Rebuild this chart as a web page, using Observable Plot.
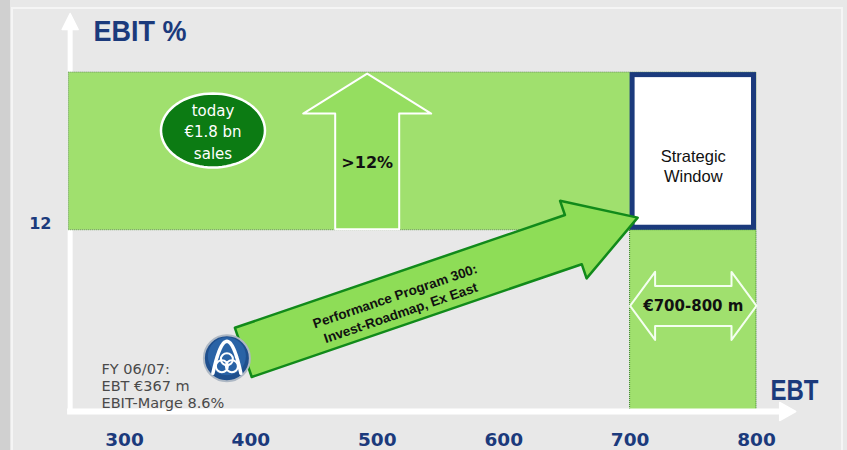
<!DOCTYPE html>
<html>
<head>
<meta charset="utf-8">
<script src="https://cdn.jsdelivr.net/npm/d3@7"></script>
<script src="https://cdn.jsdelivr.net/npm/@observablehq/plot@0.6"></script>
<style>
  html, body { margin: 0; padding: 0; background: #e8e8e8; }
  #wrap { position: relative; width: 847px; height: 450px; overflow: hidden; }
  .deco { position: absolute; }
  #chart { position: absolute; left: 0; top: 0; }
  #chart svg { background: transparent; overflow: visible; }
</style>
</head>
<body>
<div id="wrap">
  <div class="deco" style="left:0;top:0;width:10px;height:450px;background:#d0d0d0"></div>
  <div class="deco" style="left:11px;top:7px;width:2px;height:443px;background:#f5f5f5"></div>
  <div class="deco" style="left:11px;top:7px;width:832px;height:2px;background:#f5f5f5"></div>
  <div class="deco" style="left:841px;top:7px;width:2px;height:443px;background:#f5f5f5"></div>
  <div id="chart"></div>
</div>
<script>
// ---------- data (EBT in € m on x, EBIT % on y) ----------
const xTicks = [300, 400, 500, 600, 700, 800];
const yTicks = [12];
const xDomain = [300, 800];
const yDomain = [7.4, 17.5];
const axisOrigin = [257, 7.4];          // where the two axis arrows start
const xAxisEnd = 831;                   // EBT arrow tip
const yAxisEnd = 17.5;                  // EBIT % arrow tip
const bandEbt = [256, 800];             // target margin band (>12 %)
const bandMargin = [12, 16];
const windowEbt = [700, 800];           // strategic window
const windowMargin = [12, 16];
const targetArrowEbt = 492;             // ">12%" arrow
const targetArrowMargin = [12, 16];
const rangeArrowMargin = 10.08;         // "€700-800 m" double arrow
const todayPoint = [381, 8.75];         // FY 06/07 marker (logo)
const pathFrom = [394, 8.9];            // Performance Program arrow
const pathTo = [706, 12.32];
const salesBubble = [370, 14.53];
const salesLines = ["today", "€1.8 bn", "sales"];
const fyLines = ["FY 06/07:", "EBT €367 m", "EBIT-Marge 8.6%"];
const fyLabelAt = [281.8, 8.05];
const programLines = ["Performance Program 300:", "Invest-Roadmap, Ex East"];
const programLabelAt = [516, 10.14];
const windowLabel = ["Strategic", "Window"];
const windowLabelMargin = 13.64;
const targetLabel = ">12%";
const targetLabelMargin = 13.72;
const rangeLabel = "€700-800 m";

// ---------- layout ----------
const W = 847, H = 450;
const xRange = [124, 756];
const yRange = [411, 13];
const X = d3.scaleLinear().domain(xDomain).range(xRange);
const Y = d3.scaleLinear().domain(yDomain).range(yRange);
const toData = pts => pts.map(([px, py]) => ({x: X.invert(px), y: Y.invert(py)}));

const NAVY = "#1b3a7c";
const GREEN_BAND = "#a0e06e";
const GREEN_UP = "#95de60";
const GREEN_ARROW = "#8edd57";
const GREEN_DARK = "#118a1a";

// y axis arrow head
const ox = X(axisOrigin[0]), oy = Y(axisOrigin[1]);
const yTip = Y(yAxisEnd);
const yHead = toData([[ox - 8, yTip + 16], [ox, yTip], [ox + 8, yTip + 16]]);
// x axis arrow head
const xTip = X(xAxisEnd);
const xHead = toData([[xTip - 16, oy - 9], [xTip, oy], [xTip - 16, oy + 9]]);

// ">12%" up arrow
const ucx = X(targetArrowEbt), uTop = Y(targetArrowMargin[1]) + 1, uBot = Y(targetArrowMargin[0]) - 1;
const upArrow = toData([
  [ucx - 32, uBot], [ucx - 32, uTop + 40], [ucx - 64, uTop + 40], [ucx, uTop],
  [ucx + 64, uTop + 40], [ucx + 32, uTop + 40], [ucx + 32, uBot]
]);

// Performance program arrow
const p0 = [X(pathFrom[0]), Y(pathFrom[1])], p1 = [X(pathTo[0]), Y(pathTo[1])];
const len = Math.hypot(p1[0] - p0[0], p1[1] - p0[1]);
const u = [(p1[0] - p0[0]) / len, (p1[1] - p0[1]) / len];
const n = [-u[1], u[0]];
const hb = [p1[0] - u[0] * 68, p1[1] - u[1] * 68];
const at = (p, k) => [p[0] + n[0] * k, p[1] + n[1] * k];
const progArrow = toData([at(p0, -26), at(hb, -26), at(hb, -41), p1, at(hb, 41), at(hb, 26), at(p0, 26)]);
const progAngle = Math.atan2(u[1], u[0]) * 180 / Math.PI;

// double arrow
const dl = X(windowEbt[0]), dr = X(windowEbt[1]), dy0 = Y(rangeArrowMargin);
const dblArrow = toData([
  [dl, dy0], [dl + 25, dy0 - 34], [dl + 25, dy0 - 20], [dr - 25, dy0 - 20], [dr - 25, dy0 - 34],
  [dr, dy0], [dr - 25, dy0 + 34], [dr - 25, dy0 + 20], [dl + 25, dy0 + 20], [dl + 25, dy0 + 34]
]);

// sales ellipse
const ec = [X(salesBubble[0]), Y(salesBubble[1])];
const ellipse = toData(d3.range(72).map(i => {
  const t = i / 72 * 2 * Math.PI;
  return [ec[0] + 52 * Math.cos(t), ec[1] + 37 * Math.sin(t)];
}));

// logo arch and rings
const lc = [X(todayPoint[0]), Y(todayPoint[1])];
const arch = toData(d3.range(-14, 14.01, 1).map(dx => [lc[0] + dx, lc[1] - 17 + 32 * (dx / 14) ** 2]));
const rings = toData([[lc[0], lc[1] + 1], [lc[0] - 5, lc[1] + 8], [lc[0] + 5, lc[1] + 8]]);

const plot = Plot.plot({
  width: W, height: H,
  marginLeft: 70, marginRight: 52, marginTop: 13, marginBottom: 39,
  x: {domain: xDomain, range: xRange, axis: null},
  y: {domain: yDomain, range: yRange, axis: null},
  style: {fontFamily: "DejaVu Sans", background: "transparent", overflow: "visible"},
  marks: [
    // y axis arrow (behind band)
    Plot.ruleX([axisOrigin[0]], {y1: axisOrigin[1], y2: Y.invert(yTip + 14), stroke: "white", strokeWidth: 5}),
    Plot.line(yHead, {x: "x", y: "y", fill: "white", stroke: "white", curve: "linear-closed"}),
    // target band
    Plot.rect([0], {x1: bandEbt[0], x2: bandEbt[1], y1: bandMargin[0], y2: bandMargin[1], fill: GREEN_BAND,
      stroke: "#5e8f4c", strokeWidth: 1, strokeDasharray: "1,1"}),
    // column under the window
    Plot.rect([0], {x1: windowEbt[0], x2: windowEbt[1], y1: axisOrigin[1], y2: windowMargin[0], fill: GREEN_BAND,
      stroke: "#2f7a22", strokeWidth: 1, strokeDasharray: "1,1"}),
    // >12% arrow
    Plot.line(upArrow, {x: "x", y: "y", fill: GREEN_UP, stroke: "white", strokeWidth: 2, curve: "linear-closed"}),
    // strategic window
    Plot.rect([0], {x1: windowEbt[0], x2: windowEbt[1], y1: windowMargin[0], y2: windowMargin[1],
      fill: "white", stroke: NAVY, strokeWidth: 5, inset: 2.5}),
    // sales bubble
    Plot.line(ellipse, {x: "x", y: "y", fill: "#0c7b13", stroke: "white", strokeWidth: 2.5, curve: "linear-closed"}),
    // double arrow
    Plot.line(dblArrow, {x: "x", y: "y", fill: "none", stroke: "#f4fff0", strokeWidth: 2, curve: "linear-closed"}),
    // x axis arrow
    Plot.ruleY([axisOrigin[1]], {x1: axisOrigin[0] - 2, x2: X.invert(xTip - 14), stroke: "white", strokeWidth: 6}),
    Plot.line(xHead, {x: "x", y: "y", fill: "white", stroke: "white", curve: "linear-closed"}),
    // performance program arrow
    Plot.line(progArrow, {x: "x", y: "y", fill: GREEN_ARROW, stroke: GREEN_DARK, strokeWidth: 2.5, curve: "linear-closed"}),
    // logo
    Plot.dot([todayPoint], {x: d => d[0], y: d => d[1], r: 23, fill: "#1f4f8d", stroke: "#aeb8c4", strokeWidth: 2}),
    Plot.dot([todayPoint], {x: d => d[0], y: d => d[1], r: 19, fill: "#2a63a6", stroke: "none", dy: -2}),
    Plot.line(arch, {x: "x", y: "y", stroke: "white", strokeWidth: 3.5}),
    Plot.dot(rings, {x: "x", y: "y", r: 6, fill: "none", stroke: "white", strokeWidth: 2}),
    // axes tick labels
    Plot.axisX({ticks: xTicks, tickSize: 0, tickPadding: 21, fontSize: 18.5, fontWeight: "bold", fill: NAVY, label: null}),
    Plot.axisY({ticks: yTicks, tickSize: 0, tickPadding: 19, fontSize: 16, fontWeight: "bold", fill: NAVY, dy: -6, label: null}),
    // axis titles
    Plot.text(["EBIT %"], {frameAnchor: "top-left", dx: 23, dy: 6, lineAnchor: "top", textAnchor: "start",
      fontSize: 30, fontWeight: "bold", fill: NAVY, fontFamily: "Liberation Sans, Arial"}),
    Plot.text(["EBT"], {frameAnchor: "bottom-right", dx: -25, dy: -12, lineAnchor: "bottom", textAnchor: "start",
      fontSize: 30, fontWeight: "bold", fill: NAVY, fontFamily: "Liberation Sans, Arial"}),
    // annotations
    Plot.text([salesLines.join("\n")], {x: salesBubble[0], y: salesBubble[1], fill: "white", fontSize: 15,
      lineHeight: 1.43, lineAnchor: "middle"}),
    Plot.text([targetLabel], {x: targetArrowEbt, y: targetLabelMargin, fontSize: 16, fontWeight: "bold", fill: "#111"}),
    Plot.text([windowLabel.join("\n")], {x: (windowEbt[0] + windowEbt[1]) / 2, y: windowLabelMargin, fontSize: 16.5,
      lineHeight: 1.22, fill: "#111", fontFamily: "Liberation Sans, Arial"}),
    Plot.text([rangeLabel], {x: (windowEbt[0] + windowEbt[1]) / 2, y: rangeArrowMargin, fontSize: 15, fontWeight: "bold", fill: "#111"}),
    Plot.text([programLines.join("\n")], {x: programLabelAt[0], y: programLabelAt[1], rotate: progAngle, fontSize: 13.5,
      fontWeight: "bold", lineHeight: 1.3, fill: "#111", fontFamily: "Liberation Sans, Arial"}),
    Plot.text([fyLines.join("\n")], {x: fyLabelAt[0], y: fyLabelAt[1], textAnchor: "start", fontSize: 14.5,
      lineHeight: 1.17, fill: "#4a4a4a"})
  ]
});
// condensed axis titles, as in the reference
d3.select(plot).selectAll("text").each(function () {
  const t = this.textContent;
  if (t === "EBIT %") d3.select(this).attr("textLength", 93).attr("lengthAdjust", "spacingAndGlyphs");
  if (t === "EBT") d3.select(this).attr("textLength", 48).attr("lengthAdjust", "spacingAndGlyphs");
});
document.getElementById("chart").appendChild(plot);
</script>
</body>
</html>
